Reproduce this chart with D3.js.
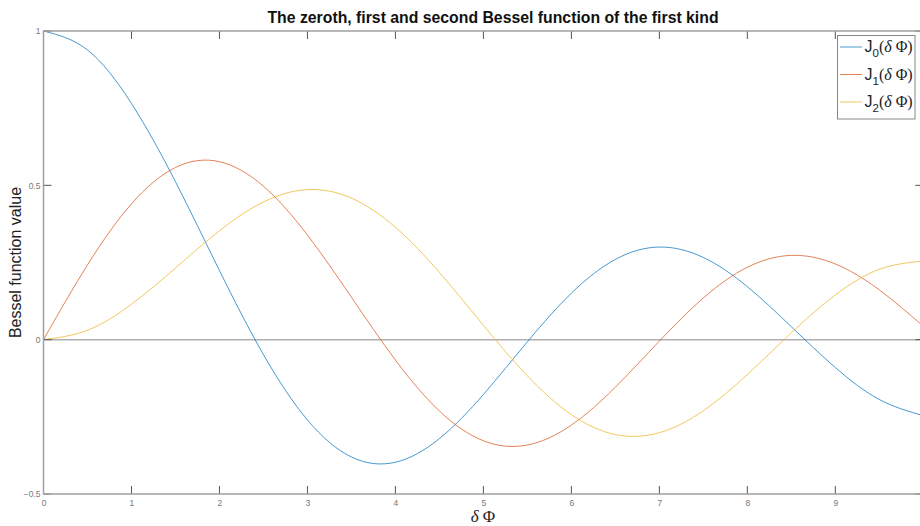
<!DOCTYPE html>
<html>
<head>
<meta charset="utf-8">
<script src="https://cdn.jsdelivr.net/npm/d3@7/dist/d3.min.js"></script>
<style>
  html, body { margin: 0; padding: 0; background: #fff; }
  svg { display: block; }
</style>
</head>
<body>
<svg id="chart" width="920" height="526"></svg>
<script>
// Sample points (argument δΦ) and values of J0, J1, J2
const xs = [0, 0.5, 1, 1.5, 2, 2.5, 3, 3.5, 4, 4.5, 5, 5.5, 6, 6.5, 7, 7.5, 8, 8.5, 9, 9.5, 10];
const j0 = [1.0000, 0.9385, 0.7652, 0.5118, 0.2239, -0.0484, -0.2601, -0.3801, -0.3971, -0.3205, -0.1776,
            -0.0068, 0.1506, 0.2601, 0.3001, 0.2663, 0.1717, 0.0419, -0.0903, -0.1939, -0.2459];
const j1 = [0.0000, 0.2423, 0.4401, 0.5579, 0.5767, 0.4971, 0.3391, 0.1374, -0.0660, -0.2311, -0.3276,
            -0.3414, -0.2767, -0.1538, -0.0047, 0.1352, 0.2346, 0.2731, 0.2453, 0.1613, 0.0435];
const j2 = [0.0000, 0.0306, 0.1149, 0.2321, 0.3528, 0.4461, 0.4861, 0.4586, 0.3641, 0.2179, 0.0466,
            -0.1173, -0.2429, -0.3074, -0.3014, -0.2303, -0.1130, 0.0223, 0.1448, 0.2279, 0.2546];

const xTicks = [0, 1, 2, 3, 4, 5, 6, 7, 8, 9];
const yTicks = [-0.5, 0, 0.5, 1];
const seriesNames = ["0", "1", "2"];
const seriesColors = ["#0072BD", "#D95319", "#EDB120"];

const svg = d3.select("#chart");
const plotL = 43.5, plotR = 923.3, plotT = 31, plotB = 494;

const x = d3.scaleLinear().domain([0, 10]).range([plotL, plotR]);
const y = d3.scaleLinear().domain([-0.5, 1]).range([plotB, plotT]);

const axisGray = "#a0a0a0";
const tickGray = "#555";
const lineOpacity = 0.72;

// zero reference line
svg.append("line")
  .attr("x1", plotL).attr("x2", plotR)
  .attr("y1", y(0)).attr("y2", y(0))
  .attr("stroke", "#b0b0b0").attr("stroke-width", 1.5);

// curves
svg.append("clipPath").attr("id", "plotclip")
  .append("rect").attr("x", plotL).attr("y", plotT - 1)
  .attr("width", plotR - plotL).attr("height", plotB - plotT + 2);

const line = d3.line().curve(d3.curveNatural);
[j0, j1, j2].forEach((vals, i) => {
  svg.append("path")
    .attr("clip-path", "url(#plotclip)")
    .attr("d", line(xs.map((v, k) => [x(v), y(vals[k])])))
    .attr("fill", "none")
    .attr("stroke", seriesColors[i])
    .attr("stroke-opacity", lineOpacity)
    .attr("stroke-width", 1);
});

// axes box with inward ticks
const bottomAxis = d3.axisBottom(x).tickValues(xTicks).tickSize(0).tickFormat(d3.format("d"));
const leftAxis = d3.axisLeft(y).tickValues(yTicks).tickSize(0)
  .tickFormat(d => d === 1 ? "1" : d === 0 ? "0" : d3.format(".1f")(d));

const gb = svg.append("g").attr("transform", `translate(0,${plotB})`).call(bottomAxis);
gb.select(".domain").remove();
gb.selectAll("text").attr("dy", 0).attr("y", 12)
  .attr("font-family", "Liberation Sans, Arial, sans-serif").attr("font-size", 8.5).attr("fill", "#777");

const gl = svg.append("g").attr("transform", `translate(${plotL},0)`).call(leftAxis);
gl.select(".domain").remove();
gl.selectAll("text").attr("x", -3).attr("dy", "0.32em")
  .attr("font-family", "Liberation Sans, Arial, sans-serif").attr("font-size", 8.5).attr("fill", "#777");

// tick marks: bottom & top (x), left & right (y)
const tickLen = 8;
const tk = svg.append("g").attr("stroke", tickGray).attr("stroke-width", 1);
xTicks.forEach(t => {
  tk.append("line").attr("x1", x(t)).attr("x2", x(t)).attr("y1", plotB).attr("y2", plotB - tickLen);
  tk.append("line").attr("x1", x(t)).attr("x2", x(t)).attr("y1", plotT).attr("y2", plotT + tickLen);
});
yTicks.forEach(t => {
  tk.append("line").attr("x1", plotL).attr("x2", plotL + tickLen).attr("y1", y(t)).attr("y2", y(t));
  tk.append("line").attr("x1", plotR).attr("x2", plotR - tickLen).attr("y1", y(t)).attr("y2", y(t));
});

svg.append("rect")
  .attr("x", plotL).attr("y", plotT)
  .attr("width", plotR - plotL).attr("height", plotB - plotT)
  .attr("fill", "none").attr("stroke", axisGray).attr("stroke-width", 1.5);

// title and axis labels
svg.append("text")
  .attr("x", 493).attr("y", 23)
  .attr("text-anchor", "middle")
  .attr("font-family", "Liberation Sans, Arial, sans-serif")
  .attr("font-size", 15.8).attr("font-weight", "bold").attr("fill", "#111")
  .text("The zeroth, first and second Bessel function of the first kind");

svg.append("text")
  .attr("transform", `translate(21,${(plotT + plotB) / 2}) rotate(-90)`)
  .attr("text-anchor", "middle")
  .attr("font-family", "Liberation Sans, Arial, sans-serif")
  .attr("font-size", 16).attr("fill", "#222")
  .text("Bessel function value");

const xl = svg.append("text")
  .attr("x", 483).attr("y", 522)
  .attr("text-anchor", "middle")
  .attr("font-family", "Liberation Serif, Times New Roman, serif")
  .attr("font-size", 17).attr("fill", "#222");
xl.append("tspan").attr("font-style", "italic").text("δ");
xl.append("tspan").text("\u00a0Φ");

// legend
const lg = svg.append("g");
lg.append("rect")
  .attr("x", 837.5).attr("y", 35.5).attr("width", 77.5).attr("height", 83.5)
  .attr("fill", "#fff").attr("stroke", "#888").attr("stroke-width", 1);
const rowY = [47, 74.5, 102];
seriesNames.forEach((s, i) => {
  lg.append("line")
    .attr("x1", 840).attr("x2", 862)
    .attr("y1", rowY[i]).attr("y2", rowY[i])
    .attr("stroke", seriesColors[i]).attr("stroke-opacity", lineOpacity).attr("stroke-width", 1);
  const t = lg.append("text")
    .attr("x", 864.5).attr("y", rowY[i] + 5)
    .attr("font-family", "Liberation Sans, Arial, sans-serif")
    .attr("font-size", 16).attr("fill", "#222");
  t.append("tspan").text("J");
  t.append("tspan").attr("font-size", 11.5).attr("dy", 5).text(s);
  t.append("tspan").attr("dy", -5).attr("font-family", "Liberation Serif, Times New Roman, serif").text("(");
  t.append("tspan").attr("font-family", "Liberation Serif, Times New Roman, serif").attr("font-style", "italic").text("δ");
  t.append("tspan").attr("font-family", "Liberation Serif, Times New Roman, serif").text("\u00a0Φ)");
});
</script>
</body>
</html>
